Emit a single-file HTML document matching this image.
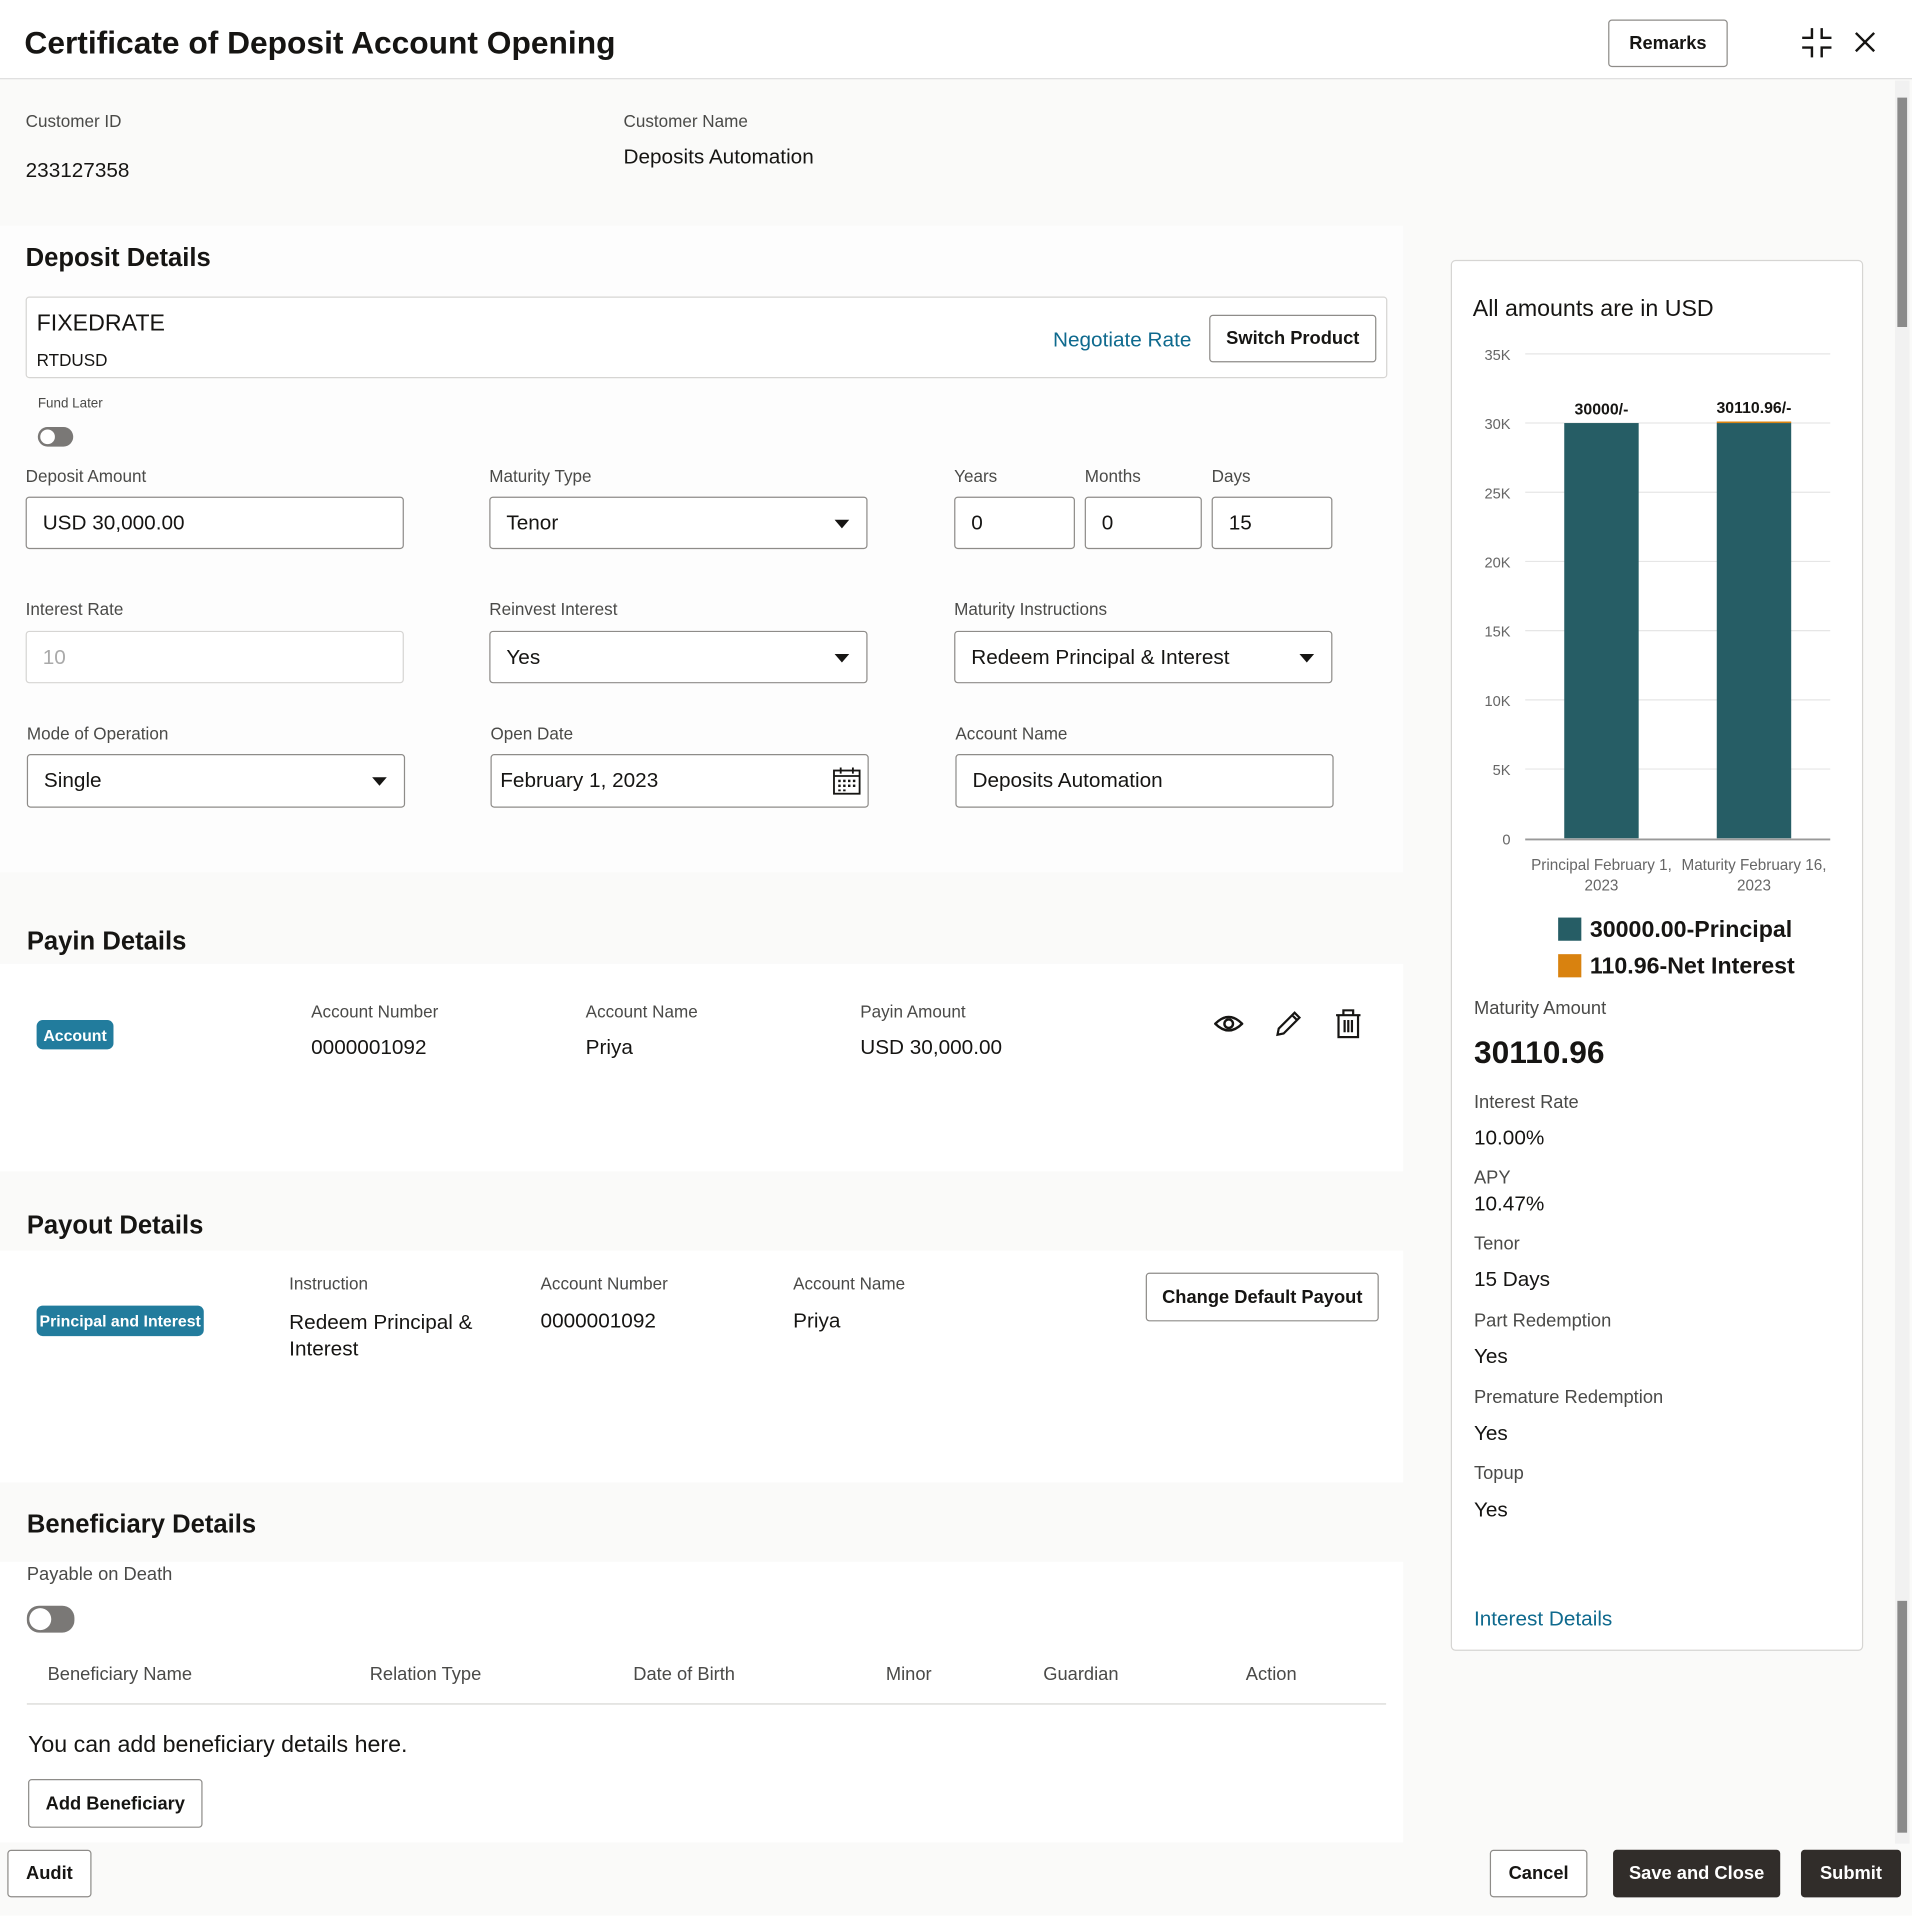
<!DOCTYPE html>
<html><head><meta charset="utf-8"><style>
html,body{margin:0;padding:0;width:1912px;height:1915px;overflow:hidden;background:#fff}
#root{position:absolute;left:0;top:0;width:1567px;height:1570px;transform:scale(1.22016);transform-origin:0 0;font-family:"Liberation Sans",sans-serif;color:#161513;background:#fafaf9}
.a{position:absolute;white-space:nowrap}
.lbl{font-size:14px;color:#4a4a48;margin-top:1px}
.val{font-size:17px;color:#161513;margin-top:2px}
.h2{font-size:21px;font-weight:bold;margin-top:2px}
.inp{position:absolute;background:#fff;border:1px solid #8e8c89;border-radius:3px;box-sizing:border-box;font-size:17px;padding-left:13px;display:flex;align-items:center}
.btn{position:absolute;background:#fff;border:1px solid #8e8c89;border-radius:3px;box-sizing:border-box;font-size:15px;display:flex;align-items:center;justify-content:center;font-weight:bold;color:#161513}
.caret{position:absolute;right:14px;top:50%;margin-top:-3px;width:0;height:0;border-left:6px solid transparent;border-right:6px solid transparent;border-top:7px solid #161513}
.badge{position:absolute;background:#227c9d;color:#fff;font-size:13px;font-weight:bold;border-radius:5px;display:flex;align-items:center;justify-content:center}
.toggle{position:absolute;background:#7a7876;border-radius:10px}
.toggle i{position:absolute;left:2px;top:2px;background:#fff;border-radius:50%}
.band{position:absolute;left:0;width:1150px;background:#fff}
</style></head><body>
<div id="root">
<div class="a" style="left:0;top:0;width:1567px;height:64px;background:#fff;border-bottom:1px solid #ddd"></div>
<div class="a" style="left:20px;top:20px;font-size:26px;font-weight:bold">Certificate of Deposit Account Opening</div>
<div class="btn" style="left:1318px;top:16px;width:98px;height:39px">Remarks</div>
<svg class="a" style="left:1476px;top:22px" width="26" height="26"><path d="M9 1v8H1M17 1v8h8M9 25v-8H1M17 25v-8h8" stroke="#161513" stroke-width="2" fill="none"/></svg>
<svg class="a" style="left:1520px;top:26px" width="17" height="17"><path d="M1 1l15 15M16 1L1 16" stroke="#161513" stroke-width="2"/></svg>

<div class="band" style="top:185px;height:530px;background:#fdfdfd"></div>
<div class="band" style="top:790px;height:170px"></div>
<div class="band" style="top:1025px;height:190px"></div>
<div class="band" style="top:1280px;height:230px"></div>

<div class="a lbl" style="left:21px;top:90px">Customer ID</div>
<div class="a val" style="left:21px;top:128px">233127358</div>
<div class="a lbl" style="left:511px;top:90px">Customer Name</div>
<div class="a val" style="left:511px;top:117px">Deposits Automation</div>

<div class="a h2" style="left:21px;top:198px">Deposit Details</div>
<div class="a" style="left:21px;top:243px;width:1116px;height:67px;background:#fff;border:1px solid #d6d5d3;border-radius:3px;box-sizing:border-box"></div>
<div class="a" style="left:30px;top:255px;font-size:19px">FIXEDRATE</div>
<div class="a" style="left:30px;top:287px;font-size:14px">RTDUSD</div>
<div class="a" style="left:863px;top:269px;font-size:17px;color:#0f6a8e">Negotiate Rate</div>
<div class="btn" style="left:991px;top:258px;width:137px;height:39px">Switch Product</div>
<div class="a" style="left:31px;top:325px;font-size:11px;color:#4a4a48">Fund Later</div>
<div class="toggle" style="left:31px;top:350px;width:29px;height:16px"><i style="width:12px;height:12px"></i></div>

<div class="a lbl" style="left:21px;top:381px">Deposit Amount</div>
<div class="inp" style="left:21px;top:407px;width:310px;height:43px">USD 30,000.00</div>
<div class="a lbl" style="left:401px;top:381px">Maturity Type</div>
<div class="inp" style="left:401px;top:407px;width:310px;height:43px">Tenor<span class="caret"></span></div>
<div class="a lbl" style="left:782px;top:381px">Years</div>
<div class="inp" style="left:782px;top:407px;width:99px;height:43px">0</div>
<div class="a lbl" style="left:889px;top:381px">Months</div>
<div class="inp" style="left:889px;top:407px;width:96px;height:43px">0</div>
<div class="a lbl" style="left:993px;top:381px">Days</div>
<div class="inp" style="left:993px;top:407px;width:99px;height:43px">15</div>

<div class="a lbl" style="left:21px;top:490px">Interest Rate</div>
<div class="inp" style="left:21px;top:517px;width:310px;height:43px;border-color:#d6d5d3;color:#aaa">10</div>
<div class="a lbl" style="left:401px;top:490px">Reinvest Interest</div>
<div class="inp" style="left:401px;top:517px;width:310px;height:43px">Yes<span class="caret"></span></div>
<div class="a lbl" style="left:782px;top:490px">Maturity Instructions</div>
<div class="inp" style="left:782px;top:517px;width:310px;height:43px">Redeem Principal &amp; Interest<span class="caret"></span></div>

<div class="a lbl" style="left:22px;top:592px">Mode of Operation</div>
<div class="inp" style="left:22px;top:618px;width:310px;height:44px">Single<span class="caret"></span></div>
<div class="a lbl" style="left:402px;top:592px">Open Date</div>
<div class="inp" style="left:402px;top:618px;width:310px;height:44px;padding-left:7px">February 1, 2023
<svg style="position:absolute;right:5px;top:9px" width="24" height="24"><rect x="1.5" y="3.5" width="21" height="19" fill="none" stroke="#161513" stroke-width="1.5"/><path d="M1.5 8h21M7 1v5M17 1v5" stroke="#161513" stroke-width="1.5"/><g fill="#161513"><rect x="5" y="11" width="2" height="2"/><rect x="9" y="11" width="2" height="2"/><rect x="13" y="11" width="2" height="2"/><rect x="17" y="11" width="2" height="2"/><rect x="5" y="15" width="2" height="2"/><rect x="9" y="15" width="2" height="2"/><rect x="13" y="15" width="2" height="2"/><rect x="17" y="15" width="2" height="2"/><rect x="5" y="19" width="2" height="1.5"/><rect x="9" y="19" width="2" height="1.5"/></g></svg></div>
<div class="a lbl" style="left:783px;top:592px">Account Name</div>
<div class="inp" style="left:783px;top:618px;width:310px;height:44px">Deposits Automation</div>

<div class="a h2" style="left:22px;top:758px">Payin Details</div>
<div class="badge" style="left:30px;top:836px;width:63px;height:24px">Account</div>
<div class="a lbl" style="left:255px;top:820px">Account Number</div>
<div class="a val" style="left:255px;top:847px">0000001092</div>
<div class="a lbl" style="left:480px;top:820px">Account Name</div>
<div class="a val" style="left:480px;top:847px">Priya</div>
<div class="a lbl" style="left:705px;top:820px">Payin Amount</div>
<div class="a val" style="left:705px;top:847px">USD 30,000.00</div>
<svg class="a" style="left:995px;top:829px" width="24" height="20"><path d="M1 10Q12-1 23 10Q12 21 1 10Z" fill="none" stroke="#161513" stroke-width="2"/><circle cx="12" cy="10" r="3.5" fill="none" stroke="#161513" stroke-width="2"/></svg>
<svg class="a" style="left:1044px;top:827px" width="24" height="24"><path d="M3 21l1-5L17 3l4 4L8 20z M15 5l4 4" fill="none" stroke="#161513" stroke-width="1.8"/></svg>
<svg class="a" style="left:1094px;top:827px" width="22" height="24"><path d="M1 5h20M7 5V1h8v4M3 5v18h16V5M8 9v10M11 9v10M14 9v10" fill="none" stroke="#161513" stroke-width="1.8"/></svg>

<div class="a h2" style="left:22px;top:991px">Payout Details</div>
<div class="badge" style="left:30px;top:1070px;width:137px;height:25px">Principal and Interest</div>
<div class="a lbl" style="left:237px;top:1043px">Instruction</div>
<div class="a val" style="left:237px;top:1071px;line-height:22px;white-space:normal;width:170px">Redeem Principal &amp; Interest</div>
<div class="a lbl" style="left:443px;top:1043px">Account Number</div>
<div class="a val" style="left:443px;top:1071px">0000001092</div>
<div class="a lbl" style="left:650px;top:1043px">Account Name</div>
<div class="a val" style="left:650px;top:1071px">Priya</div>
<div class="btn" style="left:939px;top:1043px;width:191px;height:40px">Change Default Payout</div>

<div class="a h2" style="left:22px;top:1236px">Beneficiary Details</div>
<div class="a lbl" style="left:22px;top:1281px;font-size:15px">Payable on Death</div>
<div class="toggle" style="left:22px;top:1316px;width:39px;height:22px"><i style="width:18px;height:18px"></i></div>
<div class="a lbl" style="left:39px;top:1363px;font-size:15px">Beneficiary Name</div>
<div class="a lbl" style="left:303px;top:1363px;font-size:15px">Relation Type</div>
<div class="a lbl" style="left:519px;top:1363px;font-size:15px">Date of Birth</div>
<div class="a lbl" style="left:726px;top:1363px;font-size:15px">Minor</div>
<div class="a lbl" style="left:855px;top:1363px;font-size:15px">Guardian</div>
<div class="a lbl" style="left:1021px;top:1363px;font-size:15px">Action</div>
<div class="a" style="left:22px;top:1396px;width:1114px;height:1px;background:#d6d5d3"></div>
<div class="a" style="left:23px;top:1420px;font-size:19px">You can add beneficiary details here.</div>
<div class="btn" style="left:23px;top:1458px;width:143px;height:40px">Add Beneficiary</div>

<div class="btn" style="left:6px;top:1516px;width:69px;height:39px">Audit</div>
<div class="btn" style="left:1221px;top:1516px;width:80px;height:39px">Cancel</div>
<div class="btn" style="left:1322px;top:1516px;width:137px;height:39px;background:#312d2a;color:#fff;border-color:#312d2a">Save and Close</div>
<div class="btn" style="left:1476px;top:1516px;width:82px;height:39px;background:#312d2a;color:#fff;border-color:#312d2a">Submit</div>

<div class="a" style="left:1553px;top:66px;width:12px;height:1445px;background:#f1f1f1"></div>
<div class="a" style="left:1555px;top:80px;width:8px;height:188px;background:#8a8a8a"></div>
<div class="a" style="left:1555px;top:1312px;width:8px;height:190px;background:#8a8a8a"></div>

<div class="a" style="left:1189px;top:213px;width:338px;height:1140px;background:#fff;border:1px solid #d6d5d3;border-radius:4px;box-sizing:border-box"></div>
<div class="a" style="left:1207px;top:243px;font-size:19px">All amounts are in USD</div>
<svg class="a" id="chart" style="left:1195px;top:280px" width="320" height="460"></svg>
<div class="a" style="left:1277px;top:752px;width:19px;height:19px;background:#265d65"></div>
<div class="a" style="left:1303px;top:752px;font-size:19px;font-weight:bold">30000.00-Principal</div>
<div class="a" style="left:1277px;top:782px;width:19px;height:19px;background:#d9820f"></div>
<div class="a" style="left:1303px;top:782px;font-size:19px;font-weight:bold">110.96-Net Interest</div>

<div class="a lbl" style="left:1208px;top:817px;font-size:15px">Maturity Amount</div>
<div class="a" style="left:1208px;top:847px;font-size:26px;font-weight:bold">30110.96</div>
<div class="a lbl" style="left:1208px;top:894px;font-size:15px">Interest Rate</div>
<div class="a val" style="left:1208px;top:921px">10.00%</div>
<div class="a lbl" style="left:1208px;top:956px;font-size:15px">APY</div>
<div class="a val" style="left:1208px;top:975px">10.47%</div>
<div class="a lbl" style="left:1208px;top:1010px;font-size:15px">Tenor</div>
<div class="a val" style="left:1208px;top:1037px">15 Days</div>
<div class="a lbl" style="left:1208px;top:1073px;font-size:15px">Part Redemption</div>
<div class="a val" style="left:1208px;top:1100px">Yes</div>
<div class="a lbl" style="left:1208px;top:1136px;font-size:15px">Premature Redemption</div>
<div class="a val" style="left:1208px;top:1163px">Yes</div>
<div class="a lbl" style="left:1208px;top:1198px;font-size:15px">Topup</div>
<div class="a val" style="left:1208px;top:1226px">Yes</div>
<div class="a" style="left:1208px;top:1317px;font-size:17px;color:#0f6a8e">Interest Details</div>
</div>
<script>
const categories = ["Principal February 1,|2023", "Maturity February 16,|2023"];
const principalValues = [30000, 30000];
const interestValues = [0, 110.96];
const barLabels = ["30000/-", "30110.96/-"];
const yTicks = [0, 5000, 10000, 15000, 20000, 25000, 30000, 35000];
const yTickLabels = ["0", "5K", "10K", "15K", "20K", "25K", "30K", "35K"];

const svg = document.getElementById('chart');
const NS = 'http://www.w3.org/2000/svg';
const ox = 1195, oy = 280;
const x0 = 1250 - ox, x1 = 1500 - ox, yBase = 687 - oy, yTop = 290 - oy;
const yMax = 35000;
function yScale(v){ return yBase - (v / yMax) * (yBase - yTop); }
const band = (x1 - x0) / categories.length;
function xCenter(i){ return x0 + band * (i + 0.5); }
const barW = 61;
function mk(tag, attrs){ const e = document.createElementNS(NS, tag); for (const k in attrs) e.setAttribute(k, attrs[k]); svg.appendChild(e); return e; }

yTicks.forEach((t, i) => {
  const y = yScale(t);
  if (t > 0) {
    const g = mk('line', {x1: x0, x2: x1, y1: y, y2: y, stroke: '#e6e6e6', 'stroke-width': 1});
    
    
  }
  const tx = mk('text', {x: x0 - 12, y: y + 5, 'text-anchor': 'end', 'font-size': 12, fill: '#666', 'font-family': 'Liberation Sans, sans-serif'});
  tx.textContent = yTickLabels[i];
  
  
});
categories.forEach((c, i) => {
  const cx = xCenter(i);
  const yp = yScale(principalValues[i]);
  const b = mk('rect', {x: cx - barW / 2, y: yp, width: barW, height: yBase - yp, fill: '#265d65'});
  
  
  const yi = yScale(principalValues[i] + interestValues[i]);
  const bi = mk('rect', {x: cx - barW / 2, y: yi, width: barW, height: Math.max(yp - yi, 0), fill: '#d9820f'});
  
  
  const lb = mk('text', {x: cx, y: yi - 7, 'text-anchor': 'middle', 'font-size': 13, 'font-weight': 'bold', fill: '#161513', 'font-family': 'Liberation Sans, sans-serif'});
  lb.textContent = barLabels[i];
  
  
  c.split('|').forEach((part, j) => {
    const t = mk('text', {x: cx, y: yBase + 26 + j * 17, 'text-anchor': 'middle', 'font-size': 12.5, fill: '#666', 'font-family': 'Liberation Sans, sans-serif'});
    t.textContent = part;
    
    
  });
});
const ax = mk('line', {x1: x0, x2: x1, y1: yBase + 1, y2: yBase + 1, stroke: '#999', 'stroke-width': 1.5});


</script>
</body></html>
